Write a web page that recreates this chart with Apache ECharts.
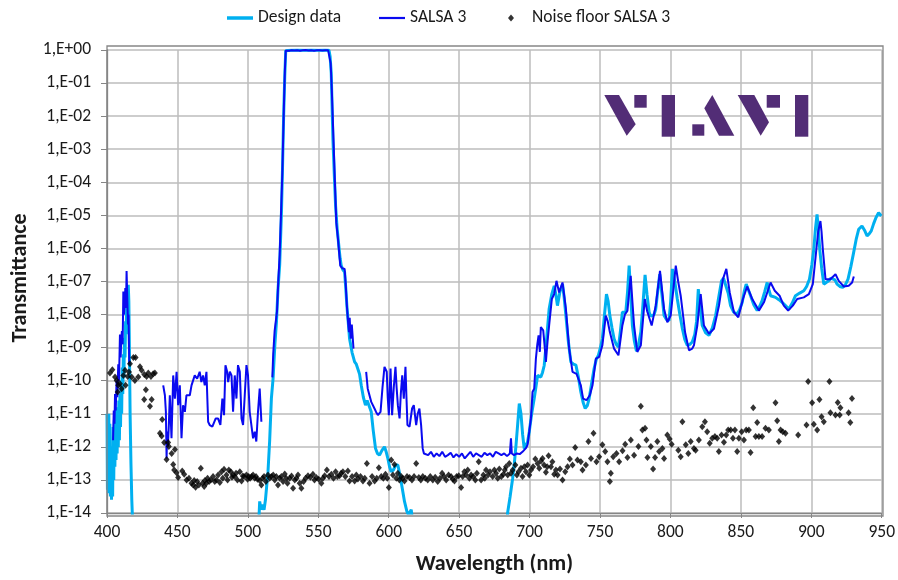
<!DOCTYPE html>
<html>
<head>
<meta charset="utf-8">
<script src="https://cdn.jsdelivr.net/npm/echarts@6/dist/echarts.min.js"></script>
<style>
html,body{margin:0;padding:0;background:#fff;}
#chart{width:898px;height:580px;}
</style>
</head>
<body>
<div id="chart"></div>
<script>
// ---- Data: [wavelength nm, log10(transmittance)] ----
const seriesNames = ['Design data', 'SALSA 3', 'Noise floor SALSA 3'];

const designSeg1 = [[400.0,-11.0],[400.3,-13.3],[400.6,-11.1],[401.0,-13.4],[401.3,-11.0],[401.7,-13.2],[402.0,-11.3],[402.4,-13.5],[402.8,-12.0],[403.2,-13.6],[403.6,-12.4],[404.0,-13.5],[404.4,-11.4],[404.8,-13.0],[405.2,-11.2],[405.6,-12.6],[406.0,-11.0],[406.4,-12.4],[406.8,-10.8],[407.2,-12.2],[407.6,-10.8],[408.0,-12.0],[408.4,-10.6],[408.8,-11.8],[409.2,-10.4],[409.6,-11.4],[410.0,-10.0],[410.4,-11.0],[410.8,-9.6],[411.2,-10.4],[411.6,-9.2],[412.0,-9.9],[412.4,-8.7],[412.8,-9.3],[413.2,-8.2],[413.6,-8.6],[414.0,-7.7],[414.4,-7.9],[414.8,-7.3],[415.1,-7.1],[415.5,-7.6],[415.9,-9.0],[416.4,-11.0],[417.0,-12.5],[417.6,-13.6],[418.2,-14.3],[418.6,-15.0]];
const designSeg2 = [[507.0,-15.0],[508.4,-13.65],[509.4,-13.9],[510.4,-13.75],[511.5,-13.9],[512.5,-13.6],[514.3,-12.75],[515.5,-11.8],[516.7,-10.54],[517.9,-9.94],[519.2,-8.9],[520.3,-8.23],[521.4,-7.23],[522.6,-6.5],[523.8,-5.0],[524.6,-3.6],[525.4,-2.0],[526.2,-0.8],[526.9,-0.02],[530,-0.01],[535,0],[540,-0.01],[545,0],[550,-0.01],[555,0],[557.6,-0.01],[558.4,-0.2],[559.2,-0.7],[560.4,-2.71],[561.3,-3.7],[562.3,-4.72],[563.4,-5.4],[564.6,-5.92],[565.5,-6.3],[566.3,-6.52],[567.5,-6.65],[568.7,-6.72],[569.5,-7.2],[570.3,-7.73],[571.2,-8.2],[572.2,-8.73],[574.0,-9.15],[575.8,-9.43],[577.0,-9.5],[578.1,-9.53],[579.3,-9.8],[580.5,-10.14],[582.0,-10.5],[583.5,-10.74],[584.7,-10.6],[585.9,-10.54],[587.6,-10.94],[589.0,-11.5],[590.6,-12.04],[592.0,-12.2],[593.5,-12.25],[595.3,-12.1],[597.0,-12.0],[598.2,-12.15],[599.4,-12.35],[600.6,-12.6],[601.8,-12.75],[603.3,-12.7],[605.0,-12.55],[606.5,-12.55],[607.7,-12.8],[608.8,-13.05],[610.0,-13.35],[611.2,-13.65],[612.9,-13.95],[614.0,-14.05],[615.0,-14.0],[616.0,-13.9],[617.0,-14.3],[618.0,-15.0]];
const designSeg3 = [[683.5,-15.0],[684.4,-14.0],[686.2,-13.5],[688.0,-12.95],[689.2,-12.5],[690.4,-11.94],[691.6,-11.3],[692.7,-10.69],[693.9,-11.0],[695.1,-11.64],[696.2,-12.05],[697.2,-12.0],[698.6,-11.85],[699.8,-11.54],[701.5,-11.0],[703.3,-10.54],[704.5,-10.2],[705.7,-9.84],[706.8,-9.83],[708.0,-9.89],[709.2,-9.75],[710.4,-9.54],[712.2,-8.7],[713.9,-7.83],[715.7,-7.4],[717.5,-7.13],[718.7,-7.4],[719.8,-7.73],[721.6,-7.3],[723.4,-7.08],[724.6,-7.5],[725.8,-8.03],[727.5,-8.8],[729.3,-9.43],[731.1,-9.5],[732.9,-9.53],[734.7,-9.9],[736.4,-10.34],[738.0,-10.65],[739.5,-10.84],[741.0,-10.75],[742.3,-10.54],[744.0,-10.1],[745.8,-9.64],[747.4,-9.35],[748.9,-9.23],[750.3,-9.0],[751.7,-8.73],[753.2,-8.0],[754.6,-7.38],[755.8,-7.6],[757.0,-8.03],[758.5,-8.4],[760.0,-8.73],[761.5,-8.9],[763.1,-8.98],[764.5,-8.5],[765.9,-7.93],[767.1,-7.9],[768.3,-7.93],[769.6,-7.3],[770.7,-6.52],[771.8,-7.4],[773.0,-8.33],[774.4,-8.8],[775.9,-9.11],[777.4,-8.9],[779.0,-8.53],[780.5,-7.7],[782.0,-6.8],[783.4,-7.4],[784.9,-7.93],[786.0,-8.05],[787.2,-8.08],[788.4,-8.0],[789.6,-7.83],[791.0,-7.3],[792.4,-6.78],[794.0,-7.4],[795.5,-8.03],[797.2,-8.15],[799.0,-8.18],[800.2,-7.6],[801.4,-6.62],[803.1,-7.0],[804.9,-7.53],[806.7,-8.0],[808.5,-8.43],[810.2,-8.75],[812.0,-8.93],[813.8,-8.9],[815.5,-8.83],[817.3,-8.6],[818.6,-8.2],[819.8,-7.23],[821.2,-7.8],[822.6,-8.33],[825.0,-8.55],[827.4,-8.63],[829.8,-8.4],[832.1,-8.03],[834.2,-7.5],[836.3,-6.98],[837.7,-6.9],[839.1,-6.93],[841.0,-7.35],[842.7,-7.73],[845.0,-7.93],[847.4,-7.98],[849.2,-7.85],[851.0,-7.63],[852.4,-7.3],[853.8,-7.08],[855.3,-7.25],[856.9,-7.43],[859.2,-7.7],[861.6,-7.88],[863.4,-7.75],[865.1,-7.58],[867.0,-7.3],[868.7,-7.03],[870.0,-7.25],[871.1,-7.43],[874.6,-7.48],[877.0,-7.55],[879.3,-7.63],[881.7,-7.73],[884.1,-7.83],[886.5,-7.65],[888.8,-7.43],[891.8,-7.35],[894.7,-7.28],[896.7,-7.15],[898.7,-6.93],[900.4,-6.5],[901.8,-6.02],[903.0,-5.4],[904.1,-4.97],[905.0,-5.4],[906.0,-6.02],[907.4,-6.6],[908.9,-7.08],[910.6,-7.03],[912.4,-6.98],[913.9,-6.9],[915.3,-6.85],[916.8,-6.95],[918.3,-7.08],[920.3,-7.15],[922.3,-7.18],[924.2,-7.1],[926.1,-6.93],[928.1,-6.55],[930.1,-6.12],[932.0,-5.7],[933.7,-5.42],[936.0,-5.32],[937.8,-5.45],[939.6,-5.62],[941.1,-5.56],[942.6,-5.47],[944.3,-5.25],[945.9,-5.07],[947.8,-4.92],[949.7,-5.02]];

const salsaSeg1 = [[404.3,-11.8],[404.8,-10.9],[405.3,-11.3],[405.7,-10.4],[406.2,-10.9],[406.8,-10.0],[407.3,-10.5],[408.0,-9.5],[408.5,-10.0],[409.2,-8.6],[409.7,-9.3],[410.2,-8.7],[410.6,-8.5],[411.1,-8.9],[411.6,-7.3],[412.0,-8.0],[412.3,-8.0],[412.7,-7.6],[413.0,-7.2],[413.5,-7.8],[413.9,-6.68],[414.4,-7.5],[414.9,-8.3],[415.3,-8.0],[415.8,-9.5]];
const salsaSeg2 = [[439.9,-10.14],[441.1,-10.44],[441.8,-10.94],[442.3,-12.35],[442.7,-11.54],[443.2,-12.0],[443.9,-11.34],[444.6,-10.44],[445.8,-11.74],[447.0,-9.84],[448.2,-10.54],[449.4,-9.73],[450.5,-10.74],[451.7,-10.14],[452.9,-11.74],[454.0,-10.74],[455.3,-10.94],[456.4,-10.44],[458.8,-10.44],[460.0,-10.14],[462.3,-9.84],[464.0,-9.94],[465.8,-9.73],[467.0,-10.04],[468.2,-9.84],[469.4,-10.14],[470.6,-9.73],[471.8,-11.24],[472.9,-11.34],[474.8,-11.39],[477.2,-11.14],[478.8,-11.14],[480.5,-11.34],[481.9,-10.54],[483.1,-11.04],[484.1,-9.53],[485.3,-9.73],[486.0,-10.04],[487.2,-9.73],[488.4,-9.84],[489.5,-10.94],[490.7,-9.84],[491.9,-10.54],[493.0,-9.53],[494.3,-9.73],[495.5,-11.14],[496.6,-11.34],[497.8,-10.44],[499.0,-9.53],[500.1,-9.84],[501.3,-10.94],[502.5,-11.34],[503.7,-11.74],[504.9,-11.54],[506.0,-11.84],[507.2,-10.94],[508.4,-10.24],[509.6,-11.24]];
const salsaSeg3 = [[517.4,-9.9],[518.0,-9.2],[519.0,-8.5],[520.7,-7.9],[521.6,-7.0],[522.6,-6.2],[523.5,-5.0],[524.5,-3.7],[525.6,-1.7],[526.3,-0.6],[526.9,-0.02],[528,-0.01],[529.5,-0.02],[531,-0.005],[533,-0.015],[535,-0.01],[537,-0.02],[539,-0.01],[541,0],[543,-0.015],[545,-0.01],[547,-0.02],[549,-0.01],[551,-0.005],[553,-0.015],[555,-0.01],[557,-0.01],[557.8,-0.05],[558.8,-0.4],[559.6,-1.2],[560.8,-2.71],[561.8,-4.0],[562.8,-5.22],[564.0,-5.72],[565.6,-6.52],[567.0,-6.6],[568.7,-6.62],[569.5,-7.1],[570.3,-7.73],[571.1,-8.2],[571.8,-8.53],[572.3,-8.1],[573.0,-8.73],[573.8,-8.3],[574.6,-8.33],[575.0,-9.03]];
const salsaSeg4 = [[584.0,-9.73],[585.1,-10.24],[586.4,-10.2],[587.6,-10.64],[588.7,-10.7],[589.9,-10.84],[591.1,-10.95],[592.3,-11.04],[594.2,-10.94],[595.6,-10.2],[597.0,-9.58],[598.6,-9.73],[599.3,-10.5],[600.1,-11.04],[601.3,-9.63],[602.4,-11.04],[603.6,-10.2],[604.8,-9.58],[605.6,-10.2],[606.5,-10.74],[607.7,-11.14],[608.6,-10.4],[609.6,-9.84],[610.7,-10.54],[611.9,-9.58],[612.6,-10.5],[613.3,-11.34],[614.8,-11.39],[616.6,-10.84],[617.8,-10.74],[619.5,-11.34],[620.6,-11.0],[621.8,-10.84],[623.0,-11.34],[624.1,-12.04],[625.0,-12.2],[626.1,-12.2],[628,-12.25],[630,-12.15],[632,-12.3],[634,-12.2],[636,-12.28],[638,-12.15],[640,-12.3],[642,-12.25],[644,-12.18],[646,-12.32],[648,-12.22],[650,-12.3],[652,-12.2],[654,-12.35],[656,-12.25],[658,-12.15],[660,-12.3],[662,-12.2],[664,-12.25],[666,-12.3],[668,-12.18],[670,-12.25],[672,-12.2],[674,-12.3],[676,-12.15],[678,-12.2],[680,-12.25],[682,-12.2],[684,-12.28],[686,-12.2],[686.8,-11.74],[687.4,-12.2],[689,-12.25],[691,-12.2],[693,-12.22],[695,-12.15],[697.4,-12.04],[698.6,-11.94],[699.8,-11.54],[701.0,-11.14],[702.1,-10.34],[703.3,-10.24],[704.5,-9.33],[705.5,-8.9],[706.4,-8.63],[707.3,-9.13],[708.0,-8.38],[709.7,-8.48],[710.6,-8.9],[711.6,-9.43],[712.8,-8.8],[713.9,-8.33],[715.8,-7.53],[717.5,-7.38],[719.1,-6.98],[721.0,-7.33],[723.4,-7.03],[725.8,-7.83],[728.1,-9.03],[730.5,-9.73],[733.3,-9.79],[736.4,-10.14],[738.0,-10.54],[740.4,-10.59],[742.8,-10.44],[744.7,-10.14],[747.1,-9.33],[749.4,-9.28],[751.7,-8.93],[754.1,-8.03],[755.5,-8.2],[757.0,-8.53],[760.0,-9.03],[763.1,-9.23],[765.9,-8.33],[767.7,-8.0],[769.5,-7.88],[771.8,-6.83],[773.0,-7.6],[774.2,-8.33],[776.5,-9.13],[779.0,-8.93],[781.8,-7.53],[783.5,-7.9],[786.7,-8.33],[789.6,-7.73],[792.6,-6.68],[795.5,-7.83],[797.8,-8.23],[800.2,-8.03],[803.8,-6.52],[805.5,-7.0],[807.3,-7.43],[810.4,-8.53],[813.2,-9.08],[815.5,-9.03],[816.7,-8.93],[819.1,-8.33],[821.5,-7.38],[823.8,-8.33],[827.4,-8.58],[830.9,-8.43],[834.5,-7.73],[837.3,-6.93],[839.7,-6.62],[842.1,-7.33],[845.1,-7.93],[848.2,-8.08],[851.5,-7.53],[854.5,-7.15],[858.1,-7.53],[862.8,-7.88],[866.4,-7.63],[871.1,-7.03],[874.1,-7.28],[877.5,-7.43],[880.5,-7.73],[883.6,-7.88],[886.9,-7.73],[890.0,-7.53],[894.7,-7.48],[898.3,-7.38],[901.1,-7.08],[903.4,-6.12],[904.9,-5.5],[906.5,-5.17],[907.3,-5.5],[908.2,-6.02],[910.1,-6.93],[913.6,-6.93],[917.2,-6.78],[919.5,-6.98],[923.1,-7.15],[926.6,-7.13],[929.0,-7.03],[930.2,-6.85]];

const noiseBlue = [[402.1,-9.77],[403.8,-9.67],[405.7,-9.89],[406.9,-9.99],[407.6,-10.34],[408,-10.14],[409.2,-10.09],[410.4,-10.24],[411.6,-9.84],[412.8,-9.68],[413.2,-10.14],[414.7,-9.87],[415.6,-9.74],[416.3,-9.49],[417.5,-9.89],[418.7,-9.3],[419.8,-9.99],[420.3,-9.3],[422.2,-9.89],[423.4,-9.58],[424.6,-9.68],[426.4,-10.57],[426.5,-9.81],[427.6,-10.27],[428.1,-9.87],[429.3,-9.77],[430.5,-10.77],[431.2,-9.87],[431.7,-10.57],[432.8,-9.79],[434,-9.77],[437.6,-11.59],[438.8,-11.67],[439.2,-11.17],[440.6,-11.87],[442.3,-12.38],[443.4,-11.87],[443.9,-11.99],[445.9,-12.2],[447,-12.53],[447.7,-12.7],[448.2,-12.08],[449.4,-12.78],[450.5,-12.93],[453.4,-12.73],[454.8,-12.83]];
const noiseFloorMid = [[456.5,-13.0],[458.2,-12.95],[460.0,-13.1],[461.2,-13.15],[461.9,-13.02],[462.9,-13.22],[464.0,-13.05],[465.2,-13.15],[466.6,-12.65],[467.8,-13.1],[469,-13.2],[469.5,-13.02],[470.5,-13.1],[471.4,-12.95],[472.5,-13.05],[473.7,-13.0],[475.3,-12.9],[476.5,-13.05],[477.7,-13.0],[478.9,-12.85],[480.1,-13.08],[481.3,-12.75],[482.2,-12.95],[483.1,-12.68],[484.8,-12.85],[485.6,-13.0],[486.5,-12.7],[487.9,-12.75],[488.7,-12.92],[489.5,-12.85],[490.7,-12.9],[491.6,-12.8],[492.6,-13.0],[494.3,-12.75],[495.5,-13.03],[496.4,-12.88],[497.3,-12.9],[499,-12.85],[499.8,-12.98],[500.6,-12.9],[501.6,-12.95],[502.6,-12.9],[503.7,-12.85],[504.9,-12.95],[505.8,-12.9],[506.8,-12.98],[508.4,-13.02],[509.6,-13.15],[510.5,-12.95],[511.5,-12.9],[512.8,-13.05],[514.3,-12.85],[515.5,-12.95],[516.7,-12.9],[518.0,-12.85],[519.1,-13.0],[520.2,-12.9],[521.4,-13.15],[522.6,-12.95],[523.8,-12.9],[525.0,-13.05],[526.2,-12.82],[527.2,-12.95],[528.1,-13.1],[529.7,-12.95],[531.0,-12.88],[532.1,-13.25],[533.3,-13.0],[534.5,-12.95],[535.6,-12.85],[536.8,-13.1],[538,-13.25],[539.6,-13.05],[541.0,-12.95],[542.7,-12.87],[544.4,-12.92],[546.2,-12.83],[547.3,-13.0],[548.6,-12.93],[550.3,-12.98],[552.2,-13.1],[553.3,-12.95],[554.5,-12.87],[556.1,-12.7],[557.6,-12.9],[559.3,-12.83],[560.8,-12.95],[562.3,-12.75],[563.6,-12.9],[565.1,-12.87],[566.2,-12.8],[567.5,-12.75],[569.2,-12.9],[571,-12.73],[572.2,-13.03],[574.0,-12.9],[575.8,-13.03],[577.0,-12.85],[578.1,-12.97],[580.0,-12.9],[581.7,-13.03],[583.0,-12.95],[584.5,-12.5],[586.4,-13.1],[588.2,-12.9],[590,-13.03],[591.5,-12.95],[593,-12.63],[594.7,-12.9],[596.2,-12.95],[597.7,-12.83],[599.0,-12.95],[600.1,-13.23],[601.8,-12.4],[603.0,-12.85],[604.1,-12.53],[605.4,-12.95],[606.5,-12.8],[607.6,-13.0],[608.9,-12.9],[610.0,-12.95],[611.2,-13.03],[613.0,-12.9],[614.8,-12.93],[616.5,-13.0],[618.0,-12.9],[619.5,-12.5],[621.4,-12.93],[622.8,-13.0],[624.2,-12.9],[626.0,-12.95],[627.7,-13.0],[629.5,-12.9],[631.3,-13.0],[633.0,-12.92],[634.8,-13.05],[636.4,-12.95],[637.9,-12.8],[639.3,-12.9],[640.8,-13.0],[642.5,-12.85],[644.3,-12.9],[645.5,-12.98],[646.7,-13.03],[648.2,-12.9],[649.7,-12.87],[651.4,-13.23],[652.5,-12.9],[653.7,-12.75],[655.0,-12.85],[656.1,-12.7],[657.3,-12.95],[658.5,-12.85],[660.0,-12.9],[661.5,-13.0],[662.6,-12.8],[663.9,-12.45],[665.6,-13.0],[667.2,-12.85],[668.2,-12.95],[669.1,-12.7],[670.5,-12.85],[671.9,-12.75],[673.8,-12.9],[675.0,-12.7],[676.2,-12.8],[677.4,-12.95],[678.5,-12.67],[680.0,-12.9],[681.4,-12.83],[682.4,-12.7],[683.3,-12.6],[684.5,-12.85],[685.6,-12.5],[686.8,-12.8],[688,-12.7],[689.9,-12.55],[691.0,-12.85],[692.2,-12.75],[693.9,-12.65],[695.0,-12.9],[696.3,-12.6],[697.4,-12.75],[698.6,-12.55],[699.8,-12.85],[701,-12.7],[702.5,-12.6],[704.1,-12.37],[705.7,-12.5],[706.9,-12.65],[708.1,-12.43]];
const noiseFloorRed = [[709.2,-12.35],[710.3,-12.55],[711.6,-12.77],[712.5,-12.6],[713.5,-12.27],[715.2,-12.6],[716.2,-12.45],[717.5,-12.83],[718.7,-12.7],[719.9,-12.85],[721.6,-12.67],[723.4,-13.0],[725.3,-12.75],[727,-12.6],[728.6,-12.37],[730.5,-12.55],[732.4,-12.02],[734,-12.4],[736.4,-12.45],[737.6,-12.7],[740,-12.55],[741.8,-11.84],[743.6,-12.35],[745.4,-11.59],[747.5,-12.45],[749.4,-12.3],[751.7,-11.94],[753.7,-12.14],[755.3,-12.45],[757,-13.05],[757.7,-12.8],[759.4,-12.3],[761.7,-12.2],[763.6,-12.45],[766,-12.12],[767.9,-11.92],[769.5,-12.32],[771.9,-11.79],[774.2,-12.25],[777.3,-11.99],[779,-10.77],[780.1,-11.49],[782,-11.44],[783,-11.79],[783.7,-12.32],[786.1,-11.99],[787.7,-12.67],[789.1,-12.32],[790.7,-11.84],[792,-12.14],[794.3,-12.05],[795.5,-12.35],[797.8,-11.64],[799.5,-11.76],[800.9,-11.92],[805.6,-12.1],[807.3,-12.3],[808.5,-11.24],[810.9,-11.94],[812.7,-12.2],[814.4,-11.84],[816.7,-12.05],[817.9,-12.1],[820.2,-11.79],[822.6,-11.39],[824.5,-11.24],[826.1,-11.54],[827.9,-11.89],[829.7,-11.74],[831.6,-11.69],[833.2,-11.74],[834.4,-12.14],[836.3,-11.64],[838,-11.86],[839.6,-11.64],[841,-11.49],[842.8,-11.49],[844.4,-11.74],[845.8,-11.49],[847.4,-12.14],[848.6,-11.74],[850.6,-11.54],[852.2,-11.79],[853.8,-11.49],[855.7,-11.49],[856.9,-12.17],[858.8,-10.82],[860.5,-11.69],[861.6,-11.26],[862.8,-11.69],[865.1,-11.69],[867.5,-11.44],[869.9,-11.49],[874.6,-10.67],[875.8,-11.21],[877,-11.84],[878.2,-11.49],[879.8,-11.54],[881.7,-11.59],[890.7,-11.64],[896.6,-11.34],[897.8,-10.02],[900.6,-10.67],[901.8,-11.32],[904.2,-11.49],[905.8,-10.57],[907.3,-11.09],[908.9,-11.24],[912.9,-10.02],[913.6,-10.97],[917.2,-11.04],[918.8,-10.66],[920.2,-11.04],[920.7,-10.82],[926.5,-10.97],[927.7,-11.26],[928.9,-10.54]];

const xTicks = {min: 400, max: 950, step: 50};
const yDecades = {min: -14, max: 0};

// ---- Build series data ----
function joinSegments(segs) {
  const out = [];
  segs.forEach((seg, i) => {
    if (i > 0) out.push([seg[0][0], '-']);
    seg.forEach(p => out.push([p[0], Math.pow(10, p[1])]));
  });
  return out;
}
const designData = joinSegments([designSeg1, designSeg2, designSeg3]);
const salsaData = joinSegments([salsaSeg1, salsaSeg2, salsaSeg3, salsaSeg4]);
const noiseData = noiseBlue.concat(noiseFloorMid, noiseFloorRed).map(p => [p[0], Math.pow(10, p[1])]);

const FONT = 'Carlito, Lato, sans-serif';
const TXT = '#1a1a1a';
const CYAN = '#00b0f0';
const BLUE = '#0a0af0';

function expLabel(v) {
  const e = Math.round(Math.log10(v));
  const a = Math.abs(e);
  return '1,E' + (e < 0 ? '-' : '+') + (a < 10 ? '0' + a : '' + a);
}

const chart = echarts.init(document.getElementById('chart'), null, {renderer: 'canvas'});
const logoColor = '#522d76';
function poly(points) {
  return {type: 'polygon', silent: true, z: 5, shape: {points: points}, style: {fill: logoColor}};
}
function box(x, y, w, h) {
  return {type: 'rect', silent: true, z: 5, shape: {x: x, y: y, width: w, height: h}, style: {fill: logoColor}};
}
const legendText = {fontFamily: FONT, fontSize: 17.5, color: TXT};

const option = {
  animation: false,
  backgroundColor: '#fff',
  grid: {left: 107, right: 15, top: 50, bottom: 65, containLabel: false},
  legend: [
    {left: 222, top: 4, itemWidth: 26, itemHeight: 3.5, icon: 'rect', data: [seriesNames[0]],
     textStyle: legendText},
    {left: 374, top: 4, itemWidth: 26, itemHeight: 2.2, icon: 'rect', data: [seriesNames[1]],
     textStyle: legendText},
    {left: 503, top: 4, itemWidth: 6, itemHeight: 7, data: [seriesNames[2]],
     textStyle: Object.assign({}, legendText, {padding: [0, 0, 0, 13]})}
  ],
  xAxis: {
    type: 'value', min: xTicks.min, max: xTicks.max, interval: xTicks.step,
    name: 'Wavelength (nm)', nameLocation: 'middle', nameGap: 40,
    nameTextStyle: {fontFamily: FONT, fontSize: 22, fontWeight: 'bold', color: TXT},
    axisLine: {show: true, lineStyle: {color: '#868686', width: 1.3}},
    axisTick: {show: true, length: 5, lineStyle: {color: '#868686'}},
    axisLabel: {margin: 11, fontFamily: FONT, fontSize: 17.5, color: TXT},
    splitLine: {show: true, lineStyle: {color: '#bdbdbd', width: 1.5}}
  },
  yAxis: {
    type: 'log', logBase: 10, min: Math.pow(10, yDecades.min), max: Math.pow(10, yDecades.max), interval: 1,
    name: 'Transmittance', nameLocation: 'middle', nameGap: 74,
    nameTextStyle: {fontFamily: FONT, fontSize: 22, fontWeight: 'bold', color: TXT, padding: [0, 0, 0, 7]},
    axisLine: {show: true, lineStyle: {color: '#868686', width: 1.3}},
    axisTick: {show: true, length: 6, lineStyle: {color: '#868686'}},
    axisLabel: {margin: 16, fontFamily: FONT, fontSize: 17.5, color: TXT, formatter: expLabel},
    splitLine: {show: true, lineStyle: {color: '#bdbdbd', width: 1.5}},
    minorTick: {show: false}, minorSplitLine: {show: false}
  },
  graphic: [
    {type: 'rect', silent: true, z: 4, shape: {x: 107, y: 46, width: 776, height: 470},
     style: {fill: null, stroke: '#868686', lineWidth: 1.3}},
    poly([[604.3, 95], [619, 95], [635.7, 124.3], [626.7, 135.7]]),
    box(634.3, 95, 12.4, 12.7),
    box(661.7, 95, 13.3, 41.7),
    box(692.3, 124.3, 12, 11.4),
    poly([[712.3, 95], [734.3, 135.7], [719, 135.7], [704.3, 108.3]]),
    poly([[737.7, 95], [754.3, 95], [769, 122.3], [760.7, 135.7]]),
    box(766.7, 95, 13.3, 12.7),
    box(795, 95, 13.3, 41.7)
  ],
  series: [
    {name: seriesNames[0], type: 'line', data: designData, symbol: 'none', showSymbol: false,
     lineStyle: {color: CYAN, width: 3}, itemStyle: {color: CYAN}, z: 2},
    {name: seriesNames[1], type: 'line', data: salsaData, symbol: 'none', showSymbol: false,
     lineStyle: {color: BLUE, width: 2}, itemStyle: {color: BLUE}, z: 3},
    {name: seriesNames[2], type: 'scatter', data: noiseData, symbol: 'diamond', symbolSize: [6, 7],
     itemStyle: {color: '#000'}, z: 4}
  ]
};
chart.setOption(option);
</script>
</body>
</html>
